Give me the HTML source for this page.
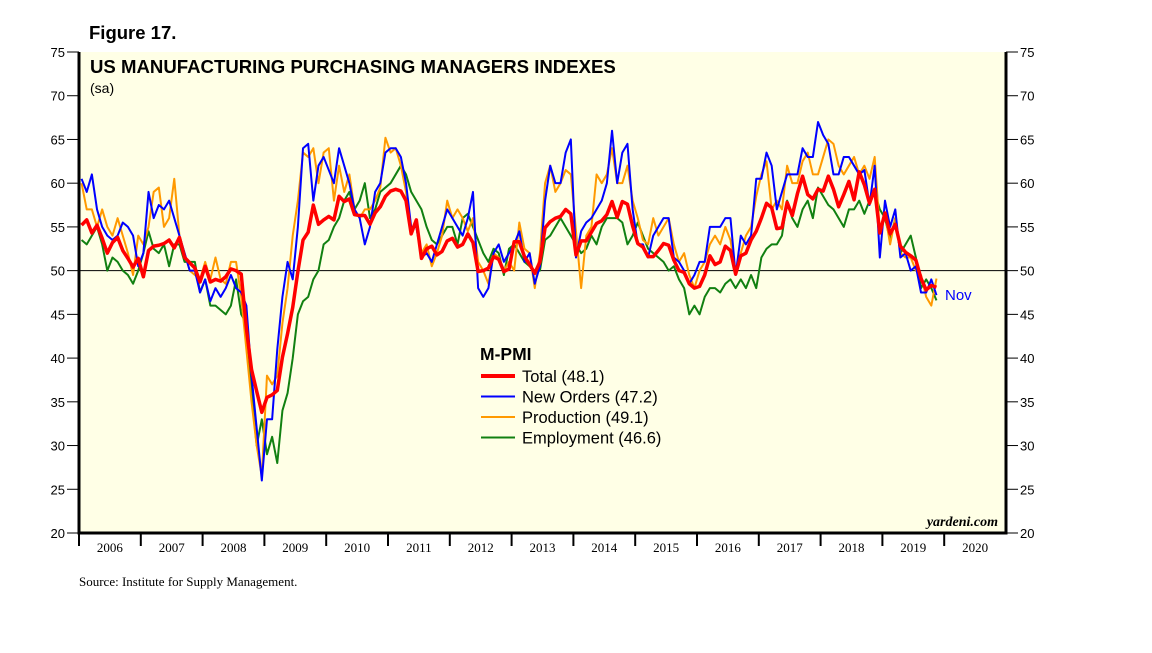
<!DOCTYPE html>
<html><head><meta charset="utf-8"><style>
body{margin:0;background:#fff;width:1152px;height:648px;overflow:hidden}
svg text{font-family:"Liberation Sans",sans-serif}
</style></head><body>
<svg id="c" width="1152" height="648">
<text x="89" y="39" font-size="18.5" font-weight="bold">Figure 17.</text>
<rect x="79" y="52" width="927" height="481" fill="#FFFFE6"/>
<g id="grid"></g>
<g id="series"></g>
<text x="90" y="73" font-size="18.6" font-weight="bold">US MANUFACTURING PURCHASING MANAGERS INDEXES</text>
<text x="90" y="93" font-size="14">(sa)</text>
<text x="480" y="360" font-size="17.5" font-weight="bold">M-PMI</text>
<g id="legend"></g>
<text x="945" y="300" font-size="15" fill="#0000ff">Nov</text>
<text x="998" y="526" font-size="14" font-style="italic" font-weight="bold" text-anchor="end" style="font-family:'Liberation Serif',serif">yardeni.com</text>
<text x="79" y="586" font-size="13" style="font-family:'Liberation Serif',serif">Source: Institute for Supply Management.</text>
</svg>
<script>
const years=[2006,2007,2008,2009,2010,2011,2012,2013,2014,2015,2016,2017,2018,2019,2020];
const yTicks=[20,25,30,35,40,45,50,55,60,65,70,75];
const total=[55.2,55.8,54.3,55.2,53.7,52.0,53.2,53.8,52.3,51.4,50.4,51.4,
49.3,52.3,52.8,52.9,53.1,53.5,52.6,53.8,51.5,50.9,50.3,48.7,
50.5,48.7,49.0,48.8,49.3,50.2,50.0,49.6,43.4,38.7,36.2,33.8,
35.5,35.8,36.3,40.1,42.8,45.8,49.9,53.5,54.4,57.5,55.3,55.8,
56.2,55.8,58.5,57.9,58.2,56.4,56.3,56.3,55.3,56.6,57.3,58.5,
59.1,59.3,59.1,58.0,54.2,55.8,51.4,52.5,52.8,51.8,52.2,53.4,
53.7,52.7,53.0,54.2,53.2,49.9,50.0,50.3,51.6,51.3,49.9,50.2,
53.3,53.3,51.6,50.7,49.7,51.0,54.9,55.6,56.0,56.2,57.0,56.5,
51.8,53.4,53.4,54.4,55.4,55.7,56.4,57.9,56.1,57.9,57.6,55.1,
53.1,52.7,51.6,51.6,52.3,53.1,52.9,51.2,50.0,49.8,48.5,48.0,
48.2,49.5,51.7,50.7,51.0,52.8,52.3,49.6,51.7,52.0,53.5,54.5,
56.0,57.7,57.2,54.8,54.9,57.8,56.3,58.8,60.8,58.7,58.2,59.3,
59.1,60.8,59.3,57.3,58.7,60.2,58.1,61.3,59.8,57.7,59.3,54.3,
56.6,54.2,55.3,52.8,52.1,51.7,51.2,49.1,47.8,48.3,48.1];
const newOrders=[60.5,59,61,57,55,54,53.5,54,55.5,55,54,50.5,
52,59,56,57.5,57,58,56,54,52,50,50,47.5,
49,46.5,48,47,48,49.5,48,47.5,46,38,32,26,
33,33,41,47,51,49,55,64,64.5,58,62,63,
61.5,60,64,62,60,57,56,53,55,59,60,63.5,
64,64,63,60,55,55,51.5,52,51,53,55,57,
56,55,54,56,59,48,47,48,52,53,51,52,
53,54.5,51,52,48.5,50.5,58,62,60,60,63.5,65,
51.5,54.5,55.5,56,57,58,60,66,60,63.5,64.5,57,
53,53,51.5,54,55,56,56,51.5,51,50,48.5,49.5,
51,51,55,55,55,56,56,49.5,54,53,54,60.5,
60.5,63.5,62,57,59,61,61,61,64,63,63,67,
65.5,64.5,61,61,63,63,62,61,61.5,57.5,62,51.5,
58,55,57,51.5,52,50,50.5,47.5,47.5,49,47.2];
const production=[60,57,57,55,57,55,54,56,54,52,49.5,54,
53,55,59,59.5,55,56,60.5,54,52,50,49.5,49,
51,49,51.5,49,48.5,51,51,47,41,35,30,26.5,
38,37,38,44,48,54,58,63.5,63,64,60,63.5,
64,58,62,59,61,57,56,57,57,58,59.5,65.2,
63.5,64,62,59,55,55,52,53,50.5,52,54,58,
56,57,56,54.5,56,51,50,48.5,52,51.5,50,51,
50,55.5,52.5,52,48,52,60,62,59,60,61.5,61,
54.5,48,54,55,61,60,61,64,60,60,62,58,
56,53.5,53,56,54,55,56,53,51,52,49.5,48,
50,51,53,54,53,55,53.5,49.5,52,54,55,58.5,
61,62.5,57,58,57,62,60,60,62.5,63.5,61,61,
63,65,64.5,62,61,62,63,61,62,60.5,63,54.5,
56.5,53,56,52,51.5,51.5,50,49.5,47,46,49.1];
const employment=[53.5,53,54,55,53,50,51.5,51,50,49.5,48.5,50,
52,54.5,52.5,52,53,50.5,53,53,51,51,51,47.5,
49,46,46,45.5,45,46,49,45,44,36,30,33,
29,31,28,34,36,40,45,46.5,47,49,50,53,
53.5,55,56,58,59,57,58,60,56,57,59,59.5,
60,61,62,61,59,58,57,55,53.5,53,54,55,
55,53,56,56.5,55,53.5,52,51,52.5,52,49.5,52.5,
53,52,51,50.5,50,50,53.5,54,55,56,55,54,
53,52,52.5,54,53,55,56,56,56,55.5,53,54,
55.5,54,52.5,52,51.5,51,50,50.5,49,48,45,46,
45,47,48,48,47.5,48.5,49,48,49,48,49.5,48,
51.5,52.5,53,53,54,58,56,55,57,58,56,59.5,
58.5,57.5,57,56,55,57,57,58,56.5,58,59,57,
56,53.5,56,52,53,54,51.5,48,49,48,46.6];
const L=79,R=1006,T=52,B=533,Y0=20,Y1=75;
const yearW=(R-L)/years.length;
const xm=i=>L+(i+0.5)*yearW/12;
const y=v=>B-(v-Y0)*(B-T)/(Y1-Y0);
const NS="http://www.w3.org/2000/svg";
function mk(t,a,p){const e=document.createElementNS(NS,t);for(const k in a)e.setAttribute(k,a[k]);p.appendChild(e);return e;}
const g=document.getElementById('grid');
yTicks.forEach(v=>{
 const l=mk('line',{x1:L-12,x2:L,y1:y(v),y2:y(v),stroke:'#000','stroke-width':1},g);
 
 
 const r=mk('line',{x1:R,x2:R+12,y1:y(v),y2:y(v),stroke:'#000','stroke-width':1},g);
 
 
 const t=mk('text',{x:L-14,y:y(v)+5,'font-size':13,'text-anchor':'end'},g);t.textContent=v;
 
 
 const t2=mk('text',{x:R+14,y:y(v)+5,'font-size':13},g);t2.textContent=v;
 
 
});
const ref=mk('line',{x1:L,x2:R,y1:y(50),y2:y(50),stroke:'#000','stroke-width':1},g);


years.forEach((yr,i)=>{
 const x0=L+i*yearW;
 const tk=mk('line',{x1:x0,x2:x0,y1:B,y2:B+13,stroke:'#000','stroke-width':2},g);
 
 
 const t=mk('text',{x:x0+yearW/2,y:B+19,'font-size':13,'text-anchor':'middle','style':"font-family:'Liberation Serif',serif"},g);t.textContent=yr;
 
 
});
const ax=mk('path',{d:`M${L},${T}V${B}H${R}V${T}`,fill:'none',stroke:'#000','stroke-width':3},g);


const s=document.getElementById('series');
const defs=[['employment-line',employment,'#118011',2],['production-line',production,'#FF9900',2],['new-orders-line',newOrders,'#0000FF',2],['total-line',total,'#FF0000',3.5]];
defs.forEach(([n,d,c,w])=>{
 const p=mk('polyline',{points:d.map((v,i)=>xm(i)+','+y(v)).join(' '),fill:'none',stroke:c,'stroke-width':w,'stroke-linejoin':'round'},s);
 
 
});
const lg=document.getElementById('legend');
[['Total (48.1)','#FF0000',4],['New Orders (47.2)','#0000FF',2],['Production (49.1)','#FF9900',2],['Employment (46.6)','#118011',2]].forEach(([t,c,w],i)=>{
 const yy=376+i*20.5;
 const l=mk('line',{x1:481,x2:515,y1:yy,y2:yy,stroke:c,'stroke-width':w},lg);
 
 
 const tx=mk('text',{x:522,y:yy+6,'font-size':16.5},lg);tx.textContent=t;
 
 
});
</script>
</body></html>
